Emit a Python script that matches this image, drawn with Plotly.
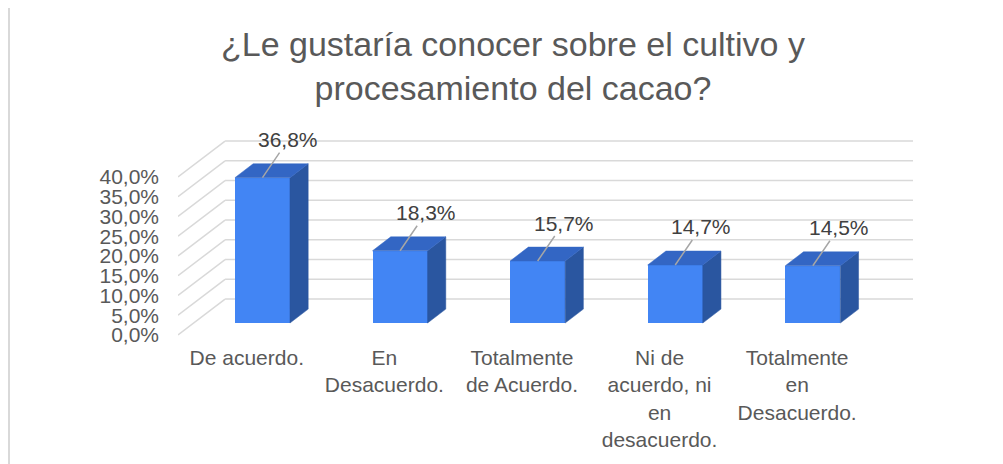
import plotly.graph_objects as go

# ---------------- data ----------------
categories = [
    "De acuerdo.",
    "En<br>Desacuerdo.",
    "Totalmente<br>de Acuerdo.",
    "Ni de<br>acuerdo, ni<br>en<br>desacuerdo.",
    "Totalmente<br>en<br>Desacuerdo.",
]
values = [36.8, 18.3, 15.7, 14.7, 14.5]
value_labels = ["36,8%", "18,3%", "15,7%", "14,7%", "14,5%"]
tick_values = [0, 5, 10, 15, 20, 25, 30, 35, 40]
tick_labels = ["0,0%", "5,0%", "10,0%", "15,0%", "20,0%", "25,0%", "30,0%", "35,0%", "40,0%"]
title_text = "¿Le gustaría conocer sobre el cultivo y<br>procesamiento del cacao?"

# ---------------- style / pseudo-3D geometry ----------------
W, H = 995, 456          # page has an 8px body margin
L, R, T, B = 170, 90, 122, 121
DX = 0.342      # horizontal depth shift (category units) at back wall
DY = 9.1        # vertical depth shift (value units) at back wall
Z1, Z2 = 0.333, 0.72   # bar front / back depth
HW = 0.2        # half bar width
PPU = 3.95      # pixels per value unit
Y0PX = 327      # figure pixel row of value 0 on the front plane

FRONT = "#4285f4"
TOP = "#3366c4"
SIDE = "#2a56a0"
GRID = "#d9d9d9"
TXT = "#595959"
FONT = "Liberation Sans, Arial, sans-serif"

n = len(categories)
plot_w = W - L - R
plot_h = H - T - B
ymin = -(H - B - Y0PX) / PPU
ymax = (Y0PX - T) / PPU


def proj(x, y, z):
    return x + z * DX, y + z * DY


fig = go.Figure()

# gridlines on back wall + diagonals on left side wall (below traces)
for v in tick_values:
    a = proj(-0.5, v, 1)
    b = proj(n - 0.5, v, 1)
    c = proj(-0.5, v, 0)
    fig.add_shape(type="line", xref="x", yref="y", x0=a[0], y0=a[1], x1=b[0], y1=b[1],
                  line=dict(color=GRID, width=1.5), layer="below")
    fig.add_shape(type="line", xref="x", yref="y", x0=c[0], y0=c[1], x1=a[0], y1=a[1],
                  line=dict(color=GRID, width=1.5), layer="below")

# bar side and top faces
for i, v in enumerate(values):
    side = [proj(i + HW, 0, Z1), proj(i + HW, 0, Z2), proj(i + HW, v, Z2), proj(i + HW, v, Z1)]
    top = [proj(i - HW, v, Z1), proj(i + HW, v, Z1), proj(i + HW, v, Z2), proj(i - HW, v, Z2)]
    for poly, col in ((side, SIDE), (top, TOP)):
        fig.add_trace(go.Scatter(
            x=[p[0] for p in poly] + [poly[0][0]],
            y=[p[1] for p in poly] + [poly[0][1]],
            mode="lines", fill="toself", fillcolor=col,
            line=dict(color=col, width=0.5),
            hoverinfo="skip", showlegend=False))

# front faces as real bars
fig.add_trace(go.Bar(
    x=[proj(i, 0, Z1)[0] for i in range(n)],
    y=values,
    base=[Z1 * DY] * n,
    width=2 * HW,
    marker=dict(color=FRONT, line=dict(width=0)),
    showlegend=False, hoverinfo="skip"))

# data labels with leader lines
for i, (v, lab) in enumerate(zip(values, value_labels)):
    px_, py_ = proj(i, v, Z1)
    fig.add_annotation(x=px_, y=py_, xref="x", yref="y", text=lab,
                       showarrow=True, arrowhead=0, arrowwidth=1.5,
                       arrowcolor="#a6a6a6", ax=26, ay=-38,
                       font=dict(family=FONT, size=21, color="#404040"))


# outer border
def px2paper_x(px):
    return (px - L) / plot_w


def py2paper_y(py):
    return (H - B - py) / plot_h


fig.add_shape(type="rect", xref="paper", yref="paper",
              x0=px2paper_x(1), x1=px2paper_x(1004),
              y0=py2paper_y(464), y1=py2paper_y(-1),
              line=dict(color=GRID, width=2), fillcolor="rgba(0,0,0,0)",
              layer="below")

fig.update_layout(
    width=W, height=H, autosize=False,
    margin=dict(l=L, r=R, t=T, b=B, pad=0),
    paper_bgcolor="white", plot_bgcolor="white",
    font=dict(family=FONT, color=TXT),
    bargap=0,
    title=dict(text=title_text, x=505 / W, xanchor="center", xref="container",
               y=1 - 48 / H, yanchor="top", yref="container",
               font=dict(family=FONT, size=34, color=TXT)),
    xaxis=dict(range=[-0.5, n - 0.5 + DX], tickmode="array",
               tickvals=list(range(n)), ticktext=categories,
               showgrid=False, zeroline=False, showline=False, ticks="",
               tickfont=dict(family=FONT, size=21, color=TXT),
               ticklabelstandoff=0, fixedrange=True),
    yaxis=dict(range=[ymin, ymax], tickmode="array",
               tickvals=tick_values, ticktext=tick_labels,
               showgrid=False, zeroline=False, showline=False, ticks="",
               tickfont=dict(family=FONT, size=21, color=TXT),
               ticklabelstandoff=18, fixedrange=True),
)

fig.write_html("out.html")
